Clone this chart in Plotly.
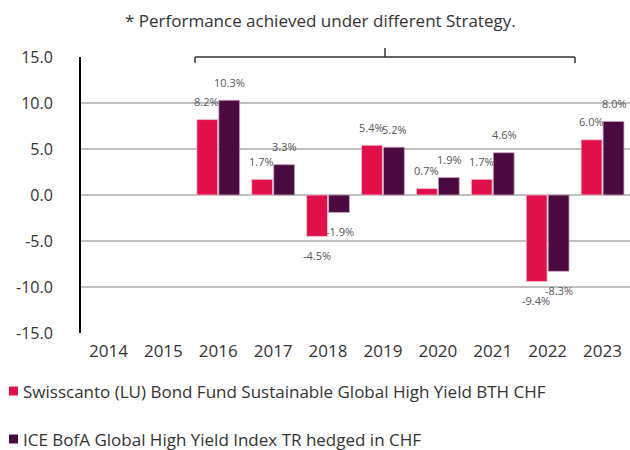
import plotly.graph_objects as go

years = ["2014", "2015", "2016", "2017", "2018", "2019", "2020", "2021", "2022", "2023"]
fund_name = "Swisscanto (LU) Bond Fund Sustainable Global High Yield BTH CHF"
index_name = "ICE BofA Global High Yield Index TR hedged in CHF"
fund_vals = [None, None, 8.2, 1.7, -4.5, 5.4, 0.7, 1.7, -9.4, 6.0]
index_vals = [None, None, 10.3, 3.3, -1.9, 5.2, 1.9, 4.6, -8.3, 8.0]
y_ticks = [15, 10, 5, 0, -5, -10, -15]
note = "* Performance achieved under different Strategy."

RED = "#E2104A"
PURPLE = "#4A0A3F"
FONT = "Open Sans, Noto Sans, sans-serif"
TXT = "#333333"

W, H = 630, 450
ML, MR, MT, MB = 81, 0, 57, 117
PW, PH = W - ML - MR, H - MT - MB


def px_x(px):
    return (px - ML) / PW


def px_y(py):
    return (H - MB - py) / PH


fig = go.Figure()
fig.add_trace(go.Bar(x=years, y=fund_vals, name=fund_name,
                     marker=dict(color=RED, line=dict(color="#f3c6d2", width=0.8))))
fig.add_trace(go.Bar(x=years, y=index_vals, name=index_name,
                     marker=dict(color=PURPLE, line=dict(color="#c9a6c0", width=0.8))))

anns = []
for vals, xs in ((fund_vals, -11.5), (index_vals, 11.5)):
    for i, v in enumerate(vals):
        if v is None:
            continue
        anns.append(dict(x=i, y=v, xref="x", yref="y", text=f"{v:.1f}%", showarrow=False,
                         xshift=xs, yshift=18 if v >= 0 else -19,
                         font=dict(family=FONT, size=11, color="#555555")))

anns.append(dict(x=px_x(320), y=px_y(20), xref="paper", yref="paper", text=note, showarrow=False,
                 xanchor="center", yanchor="middle", font=dict(family=FONT, size=17, color=TXT)))

# manual legend (swatch + label)
shapes = []
for name, color, py in ((fund_name, RED, 391), (index_name, PURPLE, 439)):
    shapes.append(dict(type="rect", xref="paper", yref="paper",
                       x0=px_x(9), x1=px_x(18), y0=px_y(py + 4.5), y1=px_y(py - 4.5),
                       fillcolor=color, line=dict(width=0)))
    anns.append(dict(x=px_x(21), y=px_y(py), xref="paper", yref="paper", text=name, showarrow=False,
                     xanchor="left", yanchor="middle", font=dict(family=FONT, size=17, color=TXT)))

# bracket above 2016-2022
line = dict(color="#333333", width=1.5)
bx0, bx1 = px_x(195), px_x(575)
bxc = (bx0 + bx1) / 2
shapes += [
    dict(type="line", xref="paper", yref="paper", x0=bx0, x1=bx1, y0=1.0, y1=1.0, line=line),
    dict(type="line", xref="paper", yref="paper", x0=bx0, x1=bx0, y0=1.0, y1=px_y(63), line=line),
    dict(type="line", xref="paper", yref="paper", x0=bx1, x1=bx1, y0=1.0, y1=px_y(63), line=line),
    dict(type="line", xref="paper", yref="paper", x0=bxc, x1=bxc, y0=1.0, y1=px_y(48), line=line),
]

fig.update_layout(
    width=W, height=H,
    margin=dict(l=ML, r=MR, t=MT, b=MB),
    paper_bgcolor="white", plot_bgcolor="white",
    barmode="group", bargap=0.2, bargroupgap=0.05,
    font=dict(family=FONT, color=TXT),
    annotations=anns, shapes=shapes,
    showlegend=False,
)
fig.update_xaxes(type="category", categoryorder="array", categoryarray=years, range=[-0.5, 9.5],
                 showgrid=False, showline=False, ticks="",
                 tickfont=dict(family=FONT, size=17, color=TXT), ticklabelstandoff=6)
fig.update_yaxes(range=[-15, 15], tickvals=y_ticks, ticktext=[f"{t:.1f}" for t in y_ticks],
                 showgrid=True, gridcolor="#BFBFBF", gridwidth=1.5,
                 zeroline=True, zerolinecolor="#BFBFBF", zerolinewidth=1.5,
                 showline=True, linecolor="black", linewidth=2,
                 ticks="", tickfont=dict(family=FONT, size=16, color=TXT), ticklabelstandoff=23)

fig.write_html("out.html")
